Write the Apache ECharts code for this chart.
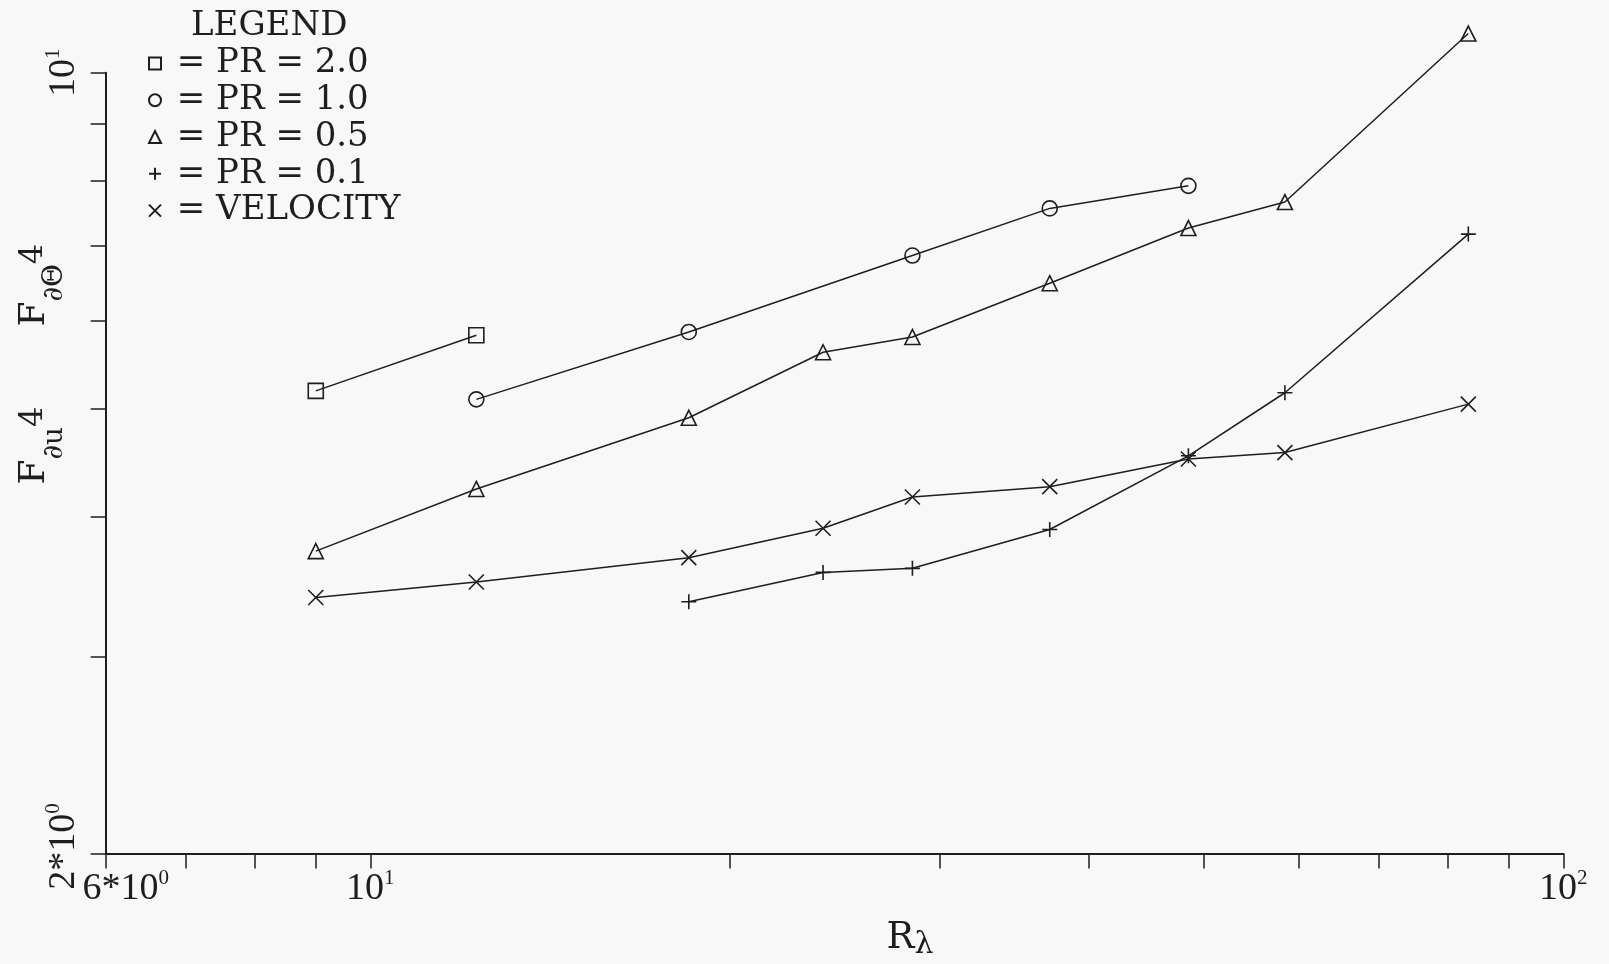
<!DOCTYPE html>
<html><head><meta charset="utf-8">
<script src="https://cdn.jsdelivr.net/npm/echarts@6/dist/echarts.min.js"></script>
<style>html,body{margin:0;padding:0;background:#f8f8f8}#c{width:1609px;height:964px}</style>
</head><body><div id="c"></div>
<script>
// ---- data ----
const rLambda = [9.0, 12.27, 18.49, 23.96, 28.47, 37.11, 48.50, 58.43, 83.25];
const pr20X = [9.0, 12.27];
const pr20Y = [5.19, 5.82];
const pr10X = [12.27, 18.49, 28.47, 37.11, 48.50];
const pr10Y = [5.10, 5.86, 6.86, 7.56, 7.92];
const pr05X = rLambda;
const pr05Y = [3.73, 4.24, 4.91, 5.62, 5.80, 6.48, 7.26, 7.66, 10.84];
const pr01X = [18.49, 23.96, 28.47, 37.11, 48.50, 58.43, 83.25];
const pr01Y = [3.36, 3.57, 3.60, 3.90, 4.54, 5.17, 7.17];
const velX = rLambda;
const velY = [3.39, 3.50, 3.68, 3.91, 4.17, 4.26, 4.51, 4.57, 5.05];
const seriesNames = ['= PR = 2.0', '= PR = 1.0', '= PR = 0.5', '= PR = 0.1', '= VELOCITY'];
const xTicks = [6, 7, 8, 9, 10, 20, 30, 40, 50, 60, 70, 80, 90, 100];
const xLabels = [6, 10, 100];
const yTicks = [2, 3, 4, 5, 6, 7, 8, 9, 10];
const yLabels = [2, 10];

const INK = '#1e1e1e';
const SYM = {
  sq: 'rect',
  ci: 'circle',
  tr: 'triangle',
  pl: 'path://M10,0V20M0,10H20',
  cr: 'path://M0,0L20,20M20,0L0,20'
};
function mk(name, xs, ys, symbol) {
  return {
    type: 'line', name, symbol, symbolSize: 15, clip: false,
    data: xs.map((x, i) => [x, ys[i]]),
    lineStyle: { color: INK, width: 1.5 },
    itemStyle: { color: 'rgba(0,0,0,0)', borderColor: INK, borderWidth: 1.6 },
    emphasis: { disabled: true }, z: 3
  };
}
function tickFmt(v) {
  const r = Math.round(v);
  if (r === 6) return '{p|6*10}{s|0}';
  if (r === 2) return '{q|2*10}{s|0}';
  if (r === 10) return '{t|10}{s|1}';
  if (r === 100) return '{t|10}{s|2}';
  return '';
}
const SERIF = 'Liberation Serif';
const DSERIF = 'DejaVu Serif';
const tickRich = {
  t: { fontFamily: SERIF, fontSize: 38, color: INK },
  p: { fontFamily: SERIF, fontSize: 38, color: INK, padding: [0, 0, 0, 40] },
  q: { fontFamily: SERIF, fontSize: 38, color: INK, padding: [0, 0, 0, 14] },
  s: { fontFamily: SERIF, fontSize: 21, color: INK, padding: [0, 0, 22, 0] }
};
const chart = echarts.init(document.getElementById('c'));
chart.setOption({
  backgroundColor: '#f8f8f8',
  animation: false,
  title: {
    text: 'LEGEND', left: 191, top: 9, padding: 0,
    textStyle: { fontFamily: DSERIF, fontSize: 34, fontWeight: 'normal', color: INK }
  },
  legend: {
    orient: 'vertical', left: 148, top: 45, padding: 0, itemGap: 0,
    itemWidth: 12, itemHeight: 12, selectedMode: false,
    formatter: ' {name}',
    textStyle: { fontFamily: DSERIF, fontSize: 34, color: INK, lineHeight: 36.8 },
    data: [
      { name: seriesNames[0], icon: SYM.sq },
      { name: seriesNames[1], icon: SYM.ci },
      { name: seriesNames[2], icon: SYM.tr },
      { name: seriesNames[3], icon: SYM.pl },
      { name: seriesNames[4], icon: SYM.cr }
    ]
  },
  grid: { left: 105.7, right: 45.7, top: 72.7, bottom: 110.5, containLabel: false, outerBoundsMode: 'none' },
  xAxis: {
    type: 'log', logBase: 10, min: 6, max: 100,
    axisLine: { lineStyle: { color: INK, width: 2 } },
    axisTick: { customValues: xTicks, length: 15, lineStyle: { color: INK, width: 1.5 } },
    axisLabel: { customValues: xLabels, margin: 14, formatter: tickFmt, rich: tickRich },
    splitLine: { show: false },
    name: 'R{sub|λ}', nameLocation: 'middle', nameGap: 63, nameMoveOverlap: false,
    nameTextStyle: {
      padding: [0, 0, 0, 151],
      rich: {
        sub: { fontFamily: DSERIF, fontSize: 30, color: INK, padding: [14, 0, 0, 0] }
      },
      fontFamily: DSERIF, fontSize: 37, color: INK
    }
  },
  yAxis: {
    type: 'log', logBase: 10, min: 2, max: 10,
    axisLine: { lineStyle: { color: INK, width: 2 } },
    axisTick: { customValues: yTicks, length: 15, lineStyle: { color: INK, width: 1.5 } },
    axisLabel: { customValues: yLabels, margin: 20, rotate: 90, formatter: tickFmt, rich: tickRich },
    splitLine: { show: false },
    name: 'F{sub|∂u}{sup|4}{gap| }F{sub|∂Θ}{sup|4}', nameLocation: 'middle', nameRotate: 90, nameGap: 37,
    nameMoveOverlap: false,
    nameTextStyle: {
      padding: [0, 0, 0, 198],
      fontFamily: DSERIF, fontSize: 36, color: INK,
      rich: {
        sub: { fontFamily: DSERIF, fontSize: 28, color: INK, padding: [40, 0, 0, 0] },
        sup: { fontFamily: DSERIF, fontSize: 32, color: INK, padding: [0, 0, 3, 0] },
        gap: { fontSize: 26, width: 80 }
      }
    }
  },
  series: [
    mk(seriesNames[0], pr20X, pr20Y, SYM.sq),
    mk(seriesNames[1], pr10X, pr10Y, SYM.ci),
    mk(seriesNames[2], pr05X, pr05Y, SYM.tr),
    mk(seriesNames[3], pr01X, pr01Y, SYM.pl),
    mk(seriesNames[4], velX, velY, SYM.cr)
  ]
});
</script></body></html>
